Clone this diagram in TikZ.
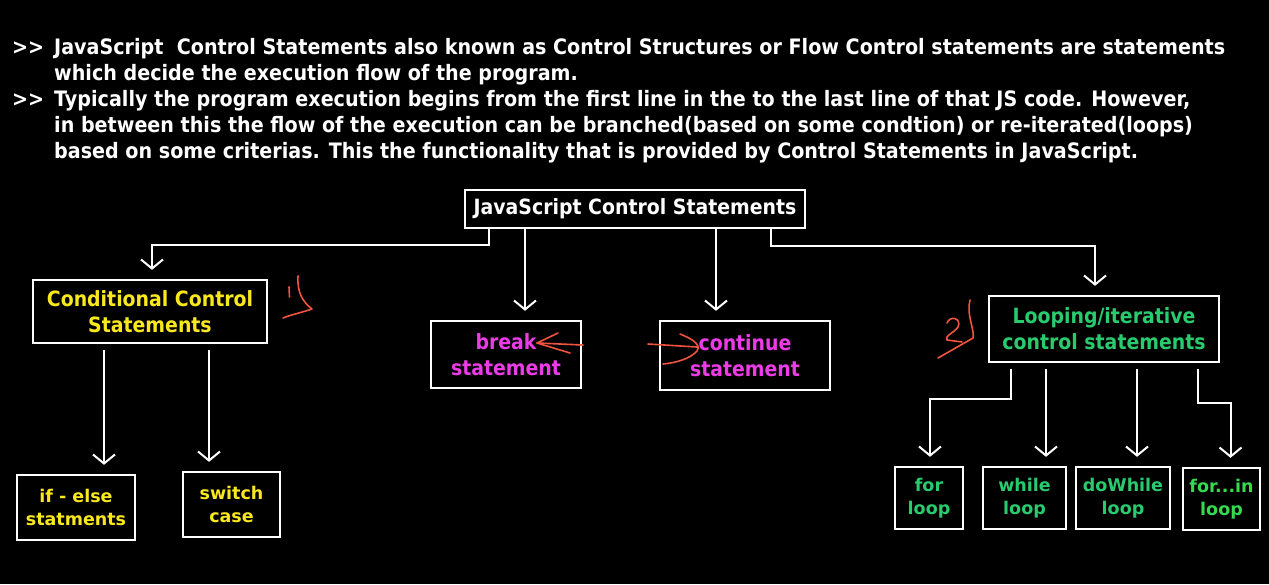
\documentclass[tikz,border=0pt]{standalone}
\usepackage{fontspec}
\setmainfont{DejaVu Sans}[FakeStretch=0.9]
\newfontfamily\leaffont{DejaVu Sans}
\usetikzlibrary{arrows.meta, positioning, calc}
\definecolor{condcolor}{RGB}{250, 232, 30}
\definecolor{jumpcolor}{RGB}{236, 60, 232}
\definecolor{loopcolor}{RGB}{40, 204, 110}
\definecolor{markcolor}{RGB}{240, 84, 62}
\tikzset{
	basebox/.style={
		rectangle, draw=white, fill=black, line width=2.4pt,
		align=center, inner sep=0pt,
		font=\fontsize{21}{26}\selectfont\bfseries
	},
	leafbox/.style={
		basebox, font=\leaffont\fontsize{17.5}{23}\selectfont\bfseries
	},
	arrow/.style={
		-{Straight Barb[length=9pt, width=22pt]}, line width=2pt, color=white,
		shorten >=9pt
	},
	scribble/.style={
		draw=markcolor, line width=1.6pt, line cap=round, line join=round
	}
}

\begin{document}
\begin{tikzpicture}[x=1pt, y=1pt]
	\fill[black] (0,0) rectangle (1269,-584);
	\useasboundingbox (0,0) rectangle (1269,-584);
	
	%% ═══════════════════════════════
	%%  INTRO TEXT
	%% ═══════════════════════════════
	\node[anchor=north west, align=left, inner sep=0pt, text=white,
	font=\fontsize{21.25}{26}\selectfont\bfseries] (intro) at (54,-38)
	{\llap{\makebox[42pt][l]{>{}>}}JavaScript\ \ Control Statements also known as Control Structures or Flow Control statements are statements\\
		which decide the execution flow of the program.\\
		\llap{\makebox[42pt][l]{>{}>}}Typically the program execution begins from the first line in the to the last line of that JS code. However,\\
		in between this the flow of the execution can be branched(based on some condtion) or re-iterated(loops)\\
		based on some criterias. This the functionality that is provided by Control Statements in JavaScript.};
	
	%% ═══════════════════════════════
	%%  ROW 1 — root
	%% ═══════════════════════════════
	\node[basebox, text=white, minimum width=340pt, minimum height=38pt] (root) at (635,-209) {JavaScript Control Statements};
	
	%% ═══════════════════════════════
	%%  ROW 2 — the four kinds
	%% ═══════════════════════════════
	\node[basebox, text=condcolor, minimum width=234pt, minimum height=63pt] (cond) at (150,-311.5) {Conditional Control\\Statements};
	\node[basebox, text=jumpcolor, minimum width=150pt, minimum height=67pt] (brk) at (506,-354.5) {break\\statement};
	\node[basebox, text=jumpcolor, minimum width=170pt, minimum height=69pt] (cont) at (745,-355.5) {continue\\statement};
	\node[basebox, text=loopcolor, minimum width=230pt, minimum height=66pt] (loop) at (1104,-329) {Looping/iterative\\control statements};
	
	%% ═══════════════════════════════
	%%  ROW 3 — leaves
	%% ═══════════════════════════════
	\node[leafbox, text=condcolor, minimum width=118pt, minimum height=65pt] (ifelse) at (76,-507.5) {if - else\\statments};
	\node[leafbox, text=condcolor, minimum width=97pt, minimum height=65pt] (switch) at (231.5,-504.5) {switch\\case};
	
	\node[leafbox, text=loopcolor, minimum width=68pt, minimum height=62pt] (forloop) at (929,-498) {for\\loop};
	\node[leafbox, text=loopcolor, minimum width=83pt, minimum height=62pt] (whileloop) at (1024.5,-498) {while\\loop};
	\node[leafbox, text=loopcolor, minimum width=94pt, minimum height=62pt] (dowhileloop) at (1123,-498) {doWhile\\loop};
	\node[leafbox, text=loopcolor!80!green!90!yellow, minimum width=77pt, minimum height=62pt] (forinloop) at (1221.5,-499) {for...in\\loop};
	
	%% ═══════════════════════════════
	%%  ARROWS
	%% ═══════════════════════════════
	
	% root → row 2
	\draw[arrow] ([xshift=-146pt]root.south) -- ++(0,-16) -| ([xshift=2pt]cond.north);
	\draw[arrow] ([xshift=19pt]brk.north |- root.south) -- ([xshift=19pt]brk.north);
	\draw[arrow] ([xshift=-29pt]cont.north |- root.south) -- ([xshift=-29pt]cont.north);
	\draw[arrow] ([xshift=136pt]root.south) -- ++(0,-17) -| ([xshift=-9pt]loop.north);
	
	% conditional → leaves
	\draw[arrow, shorten <=6pt] ([xshift=28pt]ifelse.north |- cond.south) -- ([xshift=28pt]ifelse.north);
	\draw[arrow, shorten <=6pt] ([xshift=-22.5pt]switch.north |- cond.south) -- ([xshift=-22.5pt]switch.north);
	
	% looping → leaves
	\draw[arrow, shorten <=6pt] ([xshift=-93pt]loop.south) -- ++(0,-36) -| ([xshift=1pt]forloop.north);
	\draw[arrow, shorten <=6pt] ([xshift=21.5pt]whileloop.north |- loop.south) -- ([xshift=21.5pt]whileloop.north);
	\draw[arrow, shorten <=6pt] ([xshift=14pt]dowhileloop.north |- loop.south) -- ([xshift=14pt]dowhileloop.north);
	\draw[arrow, shorten <=6pt] ([xshift=94pt]loop.south) -- ++(0,-40) -| ([xshift=9pt]forinloop.north);
	
	%% ═══════════════════════════════
	%%  HAND MARKS
	%% ═══════════════════════════════
	% 1)
	\draw[scribble] (289,-287) -- (289.5,-297);
	\draw[scribble] (298,-276) .. controls (297,-293) and (303,-302) .. (312,-309)
	.. controls (300,-313) and (290,-315) .. (283,-318);
	% 2)
	\draw[scribble] (947,-323) .. controls (950,-315) and (962,-318) .. (958,-327)
	.. controls (954,-333) and (944,-336) .. (947,-340) -- (962,-342);
	\draw[scribble] (970,-300) .. controls (966,-315) and (975,-330) .. (973,-338) -- (938,-358);
	% arrow into break
	\draw[scribble] (583,-345) -- (537,-343) -- (558,-333);
	\draw[scribble] (537,-343) -- (570,-353);
	% arrow into continue
	\draw[scribble] (648,-344) -- (697,-347);
	\draw[scribble] (680,-334) .. controls (690,-338) and (702,-344) .. (697,-351)
	.. controls (690,-359) and (675,-363) .. (663,-364);
\end{tikzpicture}
\end{document}
